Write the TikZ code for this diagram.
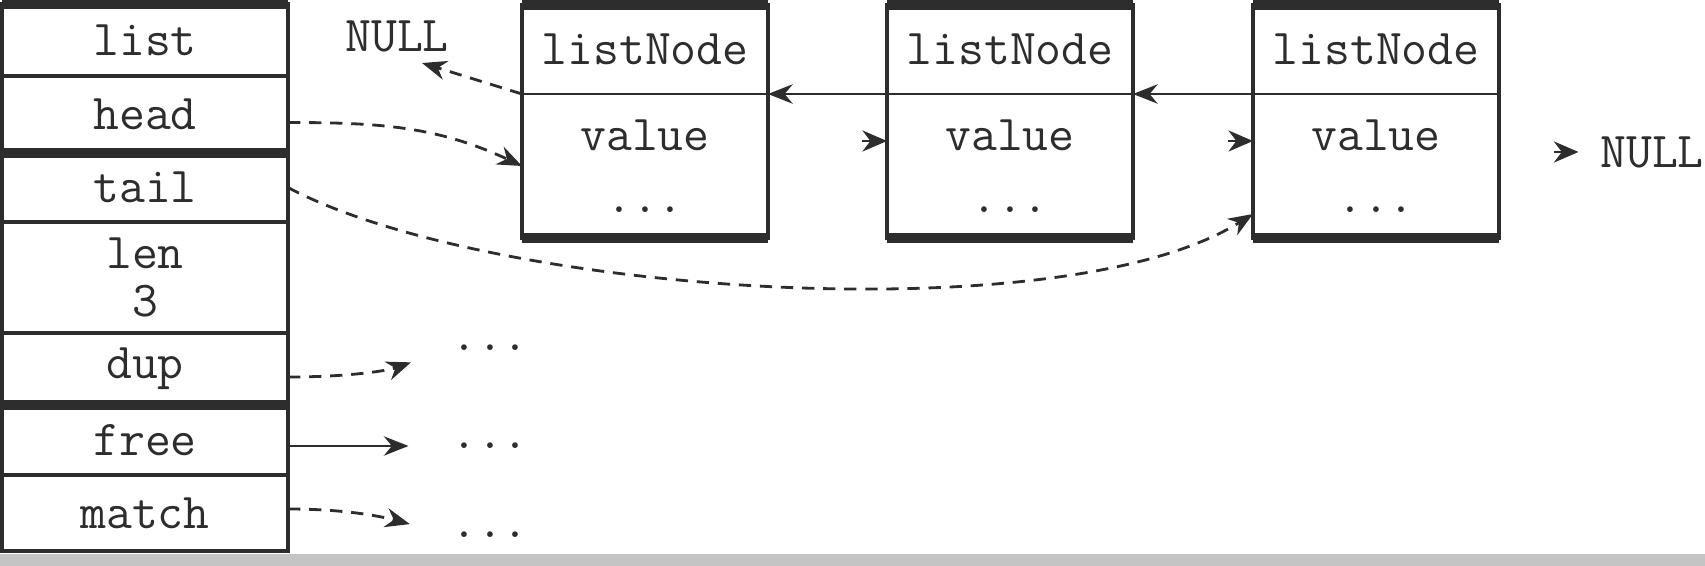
\documentclass[tikz,border=0pt]{standalone}
\usepackage{fontspec}
\usepackage{tikz}
\usetikzlibrary{arrows.meta, positioning, calc}
\definecolor{inkgray}{RGB}{45,45,45}
\definecolor{bargray}{RGB}{196,196,196}
\newcommand{\codefont}{\ttfamily\fontsize{14.3}{12.5}\selectfont}
\tikzset{
  field/.style={
    rectangle, draw=inkgray, line width=1.4pt,
    inner sep=0pt, outer sep=0pt,
    minimum width=2.86cm, minimum height=0.72cm,
    text=inkgray, font=\codefont, align=center
  },
  nodehead/.style={
    rectangle, inner sep=0pt, outer sep=0pt,
    minimum width=2.46cm, minimum height=0.89cm,
    text=inkgray, font=\codefont
  },
  nodebody/.style={
    rectangle, inner sep=0pt, outer sep=0pt,
    minimum width=2.46cm, minimum height=1.44cm,
    text=inkgray, font=\codefont, align=center
  },
  plain/.style={inner sep=2pt, text=inkgray, font=\codefont},
  dotsnode/.style={inner sep=0pt, text=inkgray, font=\codefont},
  frame/.style={draw=inkgray, line width=1.3pt},
  rim/.style={draw=inkgray, line width=2.6pt},
  divider/.style={draw=inkgray, line width=0.7pt},
  ptr/.style={draw=inkgray, line width=0.8pt, -{Stealth[length=7pt,width=5.5pt]}},
  dptr/.style={ptr, dash pattern=on 3.5pt off 2.5pt},
  headonly/.style={draw=inkgray, line width=0.8pt, -{Stealth[length=7pt,width=6pt]}},
}

\begin{document}
\begin{tikzpicture}
  \useasboundingbox (0,0) rectangle (17.05,-5.66);
  \fill[bargray] (0,-5.54) rectangle (17.05,-5.66);

  % list structure
  \node (list)  [field] at (1.45,-0.40)                    {list};
  \node (head)  [field, minimum height=0.77cm, below=0pt of list] {head};
  \node (tail)  [field, minimum height=0.69cm, below=0pt of head] {tail};
  \node (len)   [field, minimum height=1.11cm, below=0pt of tail] {len\\[1pt]3};
  \node (dup)   [field, below=0pt of len]                  {dup};
  \node (free)  [field, minimum height=0.70cm, below=0pt of dup]  {free};
  \node (match) [field, minimum height=0.76cm, below=0pt of free] {match};
  \draw[rim] (list.north west) -- (list.north east);
  \draw[rim] (head.south west) -- (head.south east);
  \draw[rim] (dup.south west)  -- (dup.south east);

  % listNode boxes
  \node (n1h) [nodehead] at (6.45,-0.495)               {listNode};
  \node (n1b) [nodebody, below=0pt of n1h]               {value\\[5pt]...};
  \node (n2h) [nodehead, right=1.19cm of n1h]            {listNode};
  \node (n2b) [nodebody, below=0pt of n2h]               {value\\[5pt]...};
  \node (n3h) [nodehead, right=1.20cm of n2h]            {listNode};
  \node (n3b) [nodebody, below=0pt of n3h]               {value\\[5pt]...};
  \foreach \n in {1,2,3} {
    \draw[frame]   (n\n h.north west) rectangle (n\n b.south east);
    \draw[divider] (n\n h.south west) -- (n\n h.south east);
    \draw[rim]     (n\n h.north west) -- (n\n h.north east);
    \draw[rim]     (n\n b.south west) -- (n\n b.south east);
  }

  \node (nullL) [plain] at (3.97,-0.36)  {NULL};
  \node (nullR) [plain] at (16.52,-1.52) {NULL};
  \node (dupdots)   [dotsnode] at (4.90,-3.48) {...};
  \node (freedots)  [dotsnode] at (4.90,-4.46) {...};
  \node (matchdots) [dotsnode] at (4.90,-5.35) {...};

  % prev pointers
  \draw[dptr] (n1h.south west) -- ([shift={(0.25,-0.27)}]nullL.center);
  \draw[ptr]  (n2h.south west) -- (n1h.south east);
  \draw[ptr]  (n3h.south west) -- (n2h.south east);

  % next pointers (heads only)
  \draw[headonly] ([shift={(-0.25,0.25)}]n2b.west) -- ([yshift=0.25cm]n2b.west);
  \draw[headonly] ([shift={(-0.25,0.25)}]n3b.west) -- ([yshift=0.25cm]n3b.west);
  \draw[headonly] ([xshift=-0.39cm]nullR.west) -- ([xshift=-0.14cm]nullR.west);

  % head and tail
  \draw[dptr] ([yshift=-0.08cm]head.east) to[out=0, in=155] (n1b.west);
  \draw[dptr] (tail.east) to[out=-28, in=212, looseness=0.6] ([yshift=-0.48cm]n3b.west);

  % functions
  \draw[dptr, shorten >=0.42cm] ([yshift=-0.08cm]dup.east) to[out=0, in=200] (dupdots.west);
  \draw[ptr,  shorten >=0.42cm] (free.east |- freedots) -- (freedots.west);
  \draw[dptr, shorten >=0.42cm] ([yshift=0.04cm]match.east) to[out=0, in=165] (matchdots.west);
\end{tikzpicture}
\end{document}
